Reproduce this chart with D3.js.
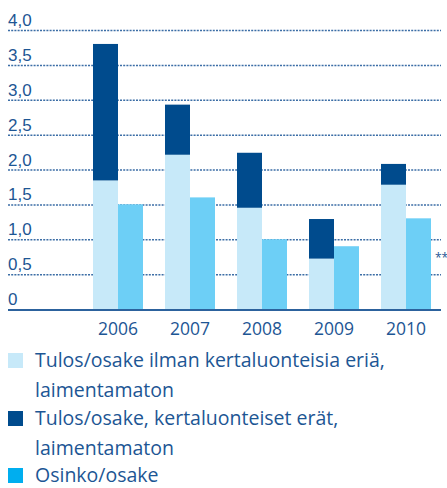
<!DOCTYPE html>
<html>
<head>
<meta charset="utf-8">
<script src="https://cdn.jsdelivr.net/npm/d3@7"></script>
<style>
  body { margin: 0; background: #fff; }
  svg { display: block; font-family: "Open Sans", sans-serif; }
</style>
</head>
<body>
<div id="chart"></div>
<script>
// values
const years = ["2006", "2007", "2008", "2009", "2010"];
const epsCore = [1.84, 2.21, 1.45, 0.72, 1.78];      // Tulos/osake ilman kertaluonteisia eriä
const epsItems = [1.96, 0.72, 0.79, 0.57, 0.30];     // kertaluonteiset erät (stacked on top)
const dividend = [1.50, 1.60, 1.00, 0.90, 1.30];     // Osinko/osake
const yTicks = [0, 0.5, 1, 1.5, 2, 2.5, 3, 3.5, 4];
const legendItems = [
  ["Tulos/osake ilman kertaluonteisia eriä,", "laimentamaton"],
  ["Tulos/osake, kertaluonteiset erät,", "laimentamaton"],
  ["Osinko/osake"]
];

const W = 447, H = 488;
const textCol = "#1d5694";
const cLight = "#c7e9f9", cDark = "#004b8d", cDiv = "#6dcff6", cDivKey = "#00aeef";

const fi = d3.formatLocale({decimal: ",", thousands: " ", grouping: [3], currency: ["", "€"]});
const fmt = d => d === 0 ? "0" : fi.format(".1f")(d);

const svg = d3.select("#chart").append("svg")
  .attr("width", W).attr("height", H);

const y = d3.scaleLinear().domain([0, 4]).range([309, 30]);
const x = d3.scaleBand().domain(years).range([82, 442])
  .paddingInner(22 / 72).paddingOuter(11 / 72);
const sub = d3.scaleBand().domain(["eps", "div"]).range([0, x.bandwidth()]);

// grid + y labels
const yAxis = svg.append("g")
  .attr("transform", "translate(8,0)")
  .call(d3.axisRight(y).tickValues(yTicks).tickSize(433).tickFormat(fmt));
yAxis.select(".domain").remove();
yAxis.selectAll(".tick line")
  .attr("stroke", d => d === 0 ? "none" : "#3c6ea6")
  .attr("stroke-width", 1.5)
  .attr("stroke-dasharray", "2,1.2");
yAxis.selectAll(".tick text")
  .attr("x", 0).attr("dy", -4.5)
  .attr("text-anchor", "start")
  .attr("fill", textCol)
  .attr("font-size", 17);

const data = years.map((yr, i) => ({yr, core: epsCore[i], items: epsItems[i], div: dividend[i]}));

const g = svg.append("g").selectAll("g").data(data).join("g")
  .attr("transform", d => `translate(${x(d.yr)},0)`);

g.append("rect")
  .attr("x", sub("eps")).attr("width", sub.bandwidth())
  .attr("y", d => y(d.core + d.items))
  .attr("height", d => y(d.core) - y(d.core + d.items))
  .attr("fill", cDark);
g.append("rect")
  .attr("x", sub("eps")).attr("width", sub.bandwidth())
  .attr("y", d => y(d.core))
  .attr("height", d => y(0) - y(d.core))
  .attr("fill", cLight);
g.append("rect")
  .attr("x", sub("div")).attr("width", sub.bandwidth())
  .attr("y", d => y(d.div))
  .attr("height", d => y(0) - y(d.div))
  .attr("fill", cDiv);

// baseline
svg.append("line")
  .attr("x1", 8).attr("x2", 441)
  .attr("y1", y(0) + 1).attr("y2", y(0) + 1)
  .attr("stroke", "#2c629d").attr("stroke-width", 2);

// ** note for 2010 dividend
svg.append("text")
  .attr("x", 435).attr("y", 262)
  .attr("fill", textCol).attr("font-size", 12)
  .text("**");

// x labels
const xAxis = svg.append("g")
  .attr("transform", `translate(0,${y(0)})`)
  .call(d3.axisBottom(x).tickSize(0).tickPadding(14));
xAxis.select(".domain").remove();
xAxis.selectAll("text")
  .attr("fill", textCol)
  .attr("font-size", 17.5)
  .attr("font-family", "Open Sans, sans-serif");

// legend
const keyCols = [cLight, cDark, cDivKey];
const legTop = [353, 411, 468];
const leg = svg.append("g").selectAll("g").data(legendItems).join("g")
  .attr("transform", (d, i) => `translate(8,${legTop[i]})`);
leg.append("rect")
  .attr("width", 15).attr("height", 15)
  .attr("fill", (d, i) => keyCols[i]);
leg.append("text")
  .attr("fill", textCol)
  .attr("font-size", 19.5)
  .selectAll("tspan").data(d => d).join("tspan")
  .attr("x", 27)
  .attr("y", (d, i) => 14 + i * 29.5)
  .text(d => d);
</script>
</body>
</html>
